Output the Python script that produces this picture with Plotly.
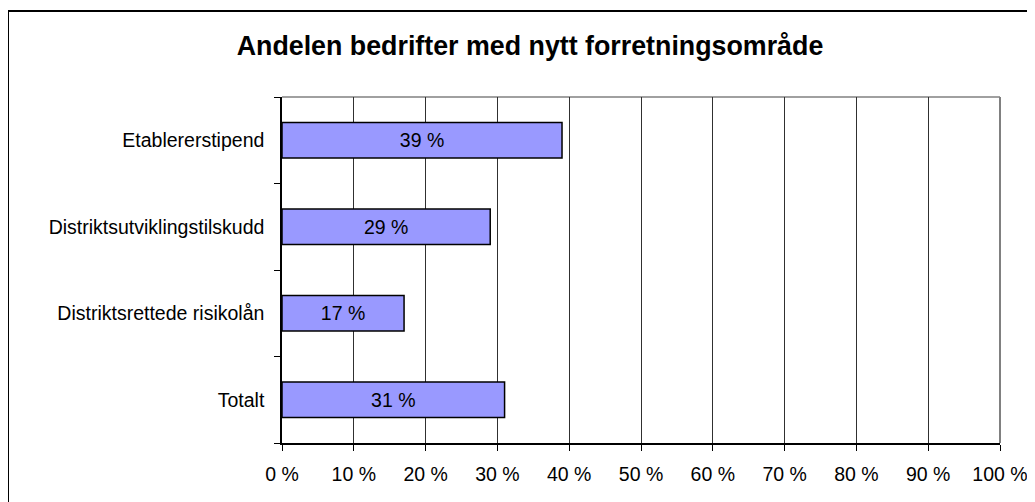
import plotly.graph_objects as go

categories = ["Etablererstipend", "Distriktsutviklingstilskudd", "Distriktsrettede risikolån", "Totalt"]
values = [39, 29, 17, 31]
labels = ["39 %", "29 %", "17 %", "31 %"]
tick_vals = [0, 10, 20, 30, 40, 50, 60, 70, 80, 90, 100]
tick_text = ["0 %", "10 %", "20 %", "30 %", "40 %", "50 %", "60 %", "70 %", "80 %", "90 %", "100 %"]
title = "Andelen bedrifter med nytt forretningsområde"

OFF = 8  # default page body margin
W, H = 1035 - OFF, 502 - OFF
L, R, T, B = 282 - OFF, 1000 - OFF, 97 - OFF, 443 - OFF

FONT = "Liberation Sans, Arial"

fig = go.Figure()
fig.add_trace(go.Bar(
    x=values, y=categories, orientation="h",
    text=labels, textposition="inside", insidetextanchor="middle",
    textfont=dict(family=FONT, size=19.5, color="black"),
    marker=dict(color="#9999FF", line=dict(color="black", width=1.5)),
    width=0.41,
))

def px_x(p):
    return (p - OFF - L) / (R - L)

def px_y(p):
    return (B - (p - OFF)) / (B - T)

shapes = [
    dict(type="rect", xref="paper", yref="paper",
         x0=px_x(8), x1=px_x(1045), y0=px_y(515), y1=px_y(11),
         line=dict(color="black", width=2), fillcolor="rgba(0,0,0,0)", layer="below"),
    dict(type="line", xref="paper", yref="paper", x0=0, x1=1, y0=1, y1=1,
         line=dict(color="#808080", width=1.5), layer="below"),
    dict(type="line", xref="paper", yref="paper", x0=1, x1=1, y0=0, y1=1,
         line=dict(color="#808080", width=2), layer="below"),
]

fig.update_layout(
    width=W, height=H, autosize=False,
    margin=dict(l=L, r=W - R, t=T, b=H - B, pad=0, autoexpand=False),
    paper_bgcolor="white", plot_bgcolor="white",
    showlegend=False,
    title=dict(text="<b>" + title + "</b>", xref="container", x=(530 - OFF) / W, xanchor="center",
               yref="container", y=1 - (46 - OFF) / H, yanchor="middle",
               font=dict(family=FONT, size=26.8, color="black")),
    font=dict(family=FONT, size=19.5, color="black"),
    shapes=shapes,
)
fig.update_xaxes(
    range=[0, 100], tickvals=tick_vals, ticktext=tick_text,
    showgrid=True, gridcolor="#303030", gridwidth=1,
    showline=True, linecolor="black", linewidth=1.5,
    ticks="outside", ticklen=6, tickcolor="black", tickwidth=1,
    ticklabelstandoff=7,
    tickfont=dict(family=FONT, size=19.5, color="black"),
    zeroline=False, fixedrange=True, automargin=False,
)
fig.update_yaxes(
    categoryorder="array", categoryarray=categories[::-1],
    showgrid=False, showline=True, linecolor="black", linewidth=1.5,
    ticks="outside", ticklen=6, tickcolor="black", tickwidth=1, tickson="boundaries",
    ticklabelstandoff=12,
    tickfont=dict(family=FONT, size=19.5, color="black"),
    fixedrange=True, automargin=False,
)
fig.write_html("out.html")
